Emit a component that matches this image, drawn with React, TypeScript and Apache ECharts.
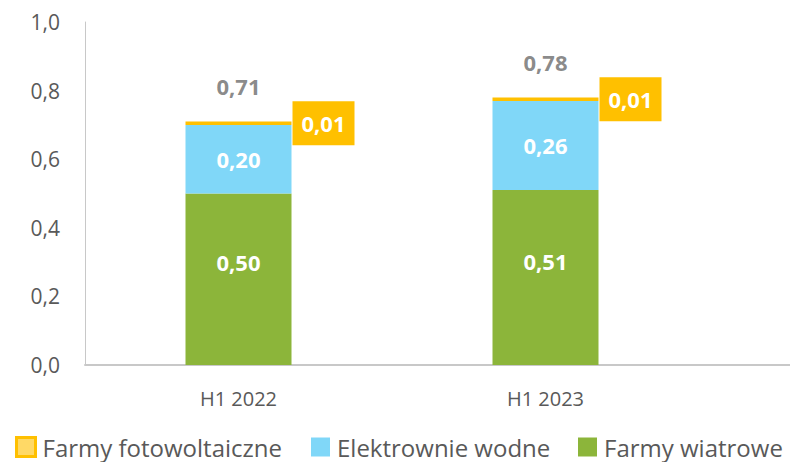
import React, { useEffect, useRef } from "react";
import * as echarts from "echarts";

const categories = ["H1 2022", "H1 2023"];
const wind = [0.5, 0.51];
const hydro = [0.2, 0.26];
const solar = [0.01, 0.01];
const yTicks = [0, 0.2, 0.4, 0.6, 0.8, 1.0];

const seriesNames = ["Farmy fotowoltaiczne", "Elektrownie wodne", "Farmy wiatrowe"];
const colors = { solar: "#FFC000", solarLight: "#FFD966", hydro: "#80D7F8", wind: "#8CB53A" };
const FONT = "Open Sans";

const fmt = (v: number) => v.toFixed(2).replace(".", ",");

export default function App() {
  const ref = useRef<HTMLDivElement>(null);
  useEffect(() => {
    if (!ref.current) return;
    const chart = echarts.init(ref.current, null, { renderer: "svg" });
    const totals = categories.map((_, i) => +(wind[i] + hydro[i] + solar[i]).toFixed(2));
    const legendBase = {
      top: 435,
      padding: 0,
      itemWidth: 19,
      itemHeight: 19,
      icon: "rect",
      selectedMode: false,
      textStyle: {
        fontFamily: FONT,
        fontSize: 24,
        lineHeight: 24,
        color: "#595959",
        padding: [0, 0, 0, 2],
      },
    };
    chart.setOption({
      animation: false,
      textStyle: { fontFamily: FONT },
      grid: [
        { left: 85, right: 91, top: 22, bottom: 97 },
        { left: 85, right: 0, top: 22, bottom: 97 },
      ],
      legend: [
        {
          ...legendBase,
          left: 15,
          data: [
            {
              name: seriesNames[0],
              itemStyle: { color: colors.solarLight, borderColor: colors.solar, borderWidth: 3 },
            },
          ],
        },
        { ...legendBase, left: 311, data: [seriesNames[1]] },
        { ...legendBase, left: 578, data: [seriesNames[2]] },
      ],
      xAxis: [
        {
          type: "category",
          gridIndex: 0,
          data: categories,
          axisLine: { show: false },
          axisTick: { show: false },
          axisLabel: { fontFamily: FONT, fontSize: 20, color: "#595959", margin: 23 },
        },
        {
          type: "value",
          gridIndex: 1,
          min: 0,
          max: 1,
          axisLine: { show: true, lineStyle: { color: "#C8C8C8", width: 2 } },
          axisTick: { show: false },
          axisLabel: { show: false },
          splitLine: { show: false },
        },
      ],
      yAxis: [
        {
          type: "value",
          gridIndex: 0,
          min: yTicks[0],
          max: yTicks[yTicks.length - 1],
          interval: 0.2,
          axisLine: { show: true, lineStyle: { color: "#C8C8C8", width: 1 } },
          axisTick: { show: false },
          splitLine: { show: false },
          axisLabel: {
            fontFamily: FONT,
            fontSize: 21,
            color: "#595959",
            margin: 25,
            formatter: (v: number) => v.toFixed(1).replace(".", ","),
          },
        },
        { type: "value", gridIndex: 1, show: false, min: 0, max: 1 },
      ],
      series: [
        {
          name: seriesNames[2],
          type: "bar",
          stack: "a",
          barWidth: 106,
          data: wind,
          itemStyle: { color: colors.wind },
          label: {
            show: true,
            position: "inside",
            offset: [0, -17],
            color: "#fff",
            fontWeight: "bold",
            fontSize: 22,
            fontFamily: FONT,
            formatter: (p: any) => fmt(p.value),
          },
        },
        {
          name: seriesNames[1],
          type: "bar",
          stack: "a",
          barWidth: 106,
          data: hydro,
          itemStyle: { color: colors.hydro },
          label: {
            show: true,
            position: "inside",
            color: "#fff",
            fontWeight: "bold",
            fontSize: 22,
            fontFamily: FONT,
            formatter: (p: any) => fmt(p.value),
          },
        },
        {
          name: seriesNames[0],
          type: "bar",
          stack: "a",
          barWidth: 106,
          data: solar,
          itemStyle: { color: colors.solar },
          label: {
            show: true,
            position: "right",
            distance: 1,
            color: "#fff",
            fontWeight: "bold",
            fontSize: 22,
            fontFamily: FONT,
            backgroundColor: colors.solar,
            padding: [11, 9, 11, 9],
            formatter: (p: any) => fmt(p.value),
          },
        },
        {
          name: "total",
          type: "scatter",
          data: totals,
          symbolSize: 0,
          silent: true,
          label: {
            show: true,
            position: "top",
            distance: 24,
            color: "#6B6B6B",
            fontWeight: "bold",
            fontSize: 22,
            fontFamily: FONT,
            formatter: (p: any) => fmt(p.value),
          },
        },
      ],
    });
    return () => chart.dispose();
  }, []);
  return <div ref={ref} style={{ width: 790, height: 462, position: "absolute", left: 0, top: 0 }} />;
}
